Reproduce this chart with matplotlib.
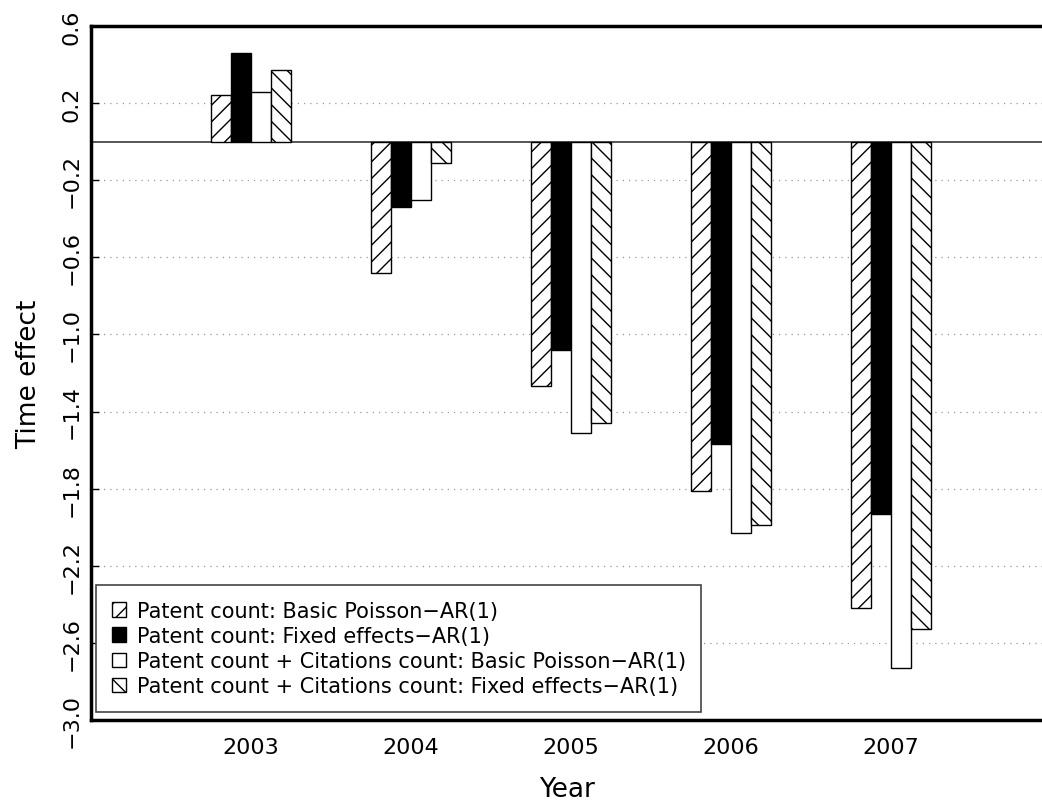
import numpy as np
import matplotlib
matplotlib.use("Agg")
import matplotlib.pyplot as plt

years = [2003, 2004, 2005, 2006, 2007]
labels = [
    "Patent count: Basic Poisson\u2212AR(1)",
    "Patent count: Fixed effects\u2212AR(1)",
    "Patent count + Citations count: Basic Poisson\u2212AR(1)",
    "Patent count + Citations count: Fixed effects\u2212AR(1)",
]
basic_pc = [0.24, -0.68, -1.27, -1.81, -2.42]
fixed_pc = [0.46, -0.34, -1.08, -1.57, -1.93]
basic_pcc = [0.26, -0.30, -1.51, -2.03, -2.73]
fixed_pcc = [0.37, -0.11, -1.46, -1.99, -2.53]
yticks = [-3.0, -2.6, -2.2, -1.8, -1.4, -1.0, -0.6, -0.2, 0.2, 0.6]

plt.rcParams["hatch.linewidth"] = 1.0
plt.rcParams["font.family"] = "DejaVu Sans"

fig = plt.figure(figsize=(10.42, 8.03), dpi=100)
ax = fig.add_axes([91 / 1042, 1 - 721 / 803, 1 - 91 / 1042, (721 - 27) / 803])

w = 0.125
x = np.array(years, dtype=float)
series = [basic_pc, fixed_pc, basic_pcc, fixed_pcc]
styles = [
    dict(facecolor="white", hatch="//"),
    dict(facecolor="black", hatch=None),
    dict(facecolor="white", hatch=None),
    dict(facecolor="white", hatch="\\\\"),
]
for i, (vals, st) in enumerate(zip(series, styles)):
    ax.bar(x + (i - 1.5) * w, vals, width=w, edgecolor="black", linewidth=1.0,
           label=labels[i], zorder=3, **st)

ax.axhline(0, color="#555555", linewidth=1.4, zorder=2)
for yv in yticks:
    ax.axhline(yv, color="#999999", linewidth=0.9, linestyle=(0, (1, 4)), zorder=1)

ax.set_xlim(2002, 2002 + 951 / 160)
ax.set_ylim(-3.0, 0.6)
ax.set_yticks(yticks)
ax.set_yticklabels([f"{v:.1f}".replace("-", "\u2212") for v in yticks],
                   rotation=90, va="center", fontsize=16)
ax.set_xticks(years)
ax.set_xticklabels([str(y) for y in years], fontsize=16)
ax.tick_params(axis="y", direction="in", length=6, width=1, pad=7)
ax.tick_params(axis="x", length=0, pad=12)

ax.spines["right"].set_visible(False)
for s in ["left", "bottom", "top"]:
    ax.spines[s].set_linewidth(2.5)

ax.set_ylabel("Time effect", fontsize=19, labelpad=14)
ax.set_xlabel("Year", fontsize=19, labelpad=14)

leg = ax.legend(loc="lower left", bbox_to_anchor=(5 / 951, 8 / 694), fontsize=15,
                handlelength=0.7, handleheight=0.7, handletextpad=0.5,
                borderpad=0.75, borderaxespad=0, labelspacing=0.25,
                fancybox=False, framealpha=1)
leg.get_frame().set_edgecolor("#444444")
leg.get_frame().set_linewidth(1.2)
leg.set_zorder(5)

fig.savefig("out.png", dpi=100)
